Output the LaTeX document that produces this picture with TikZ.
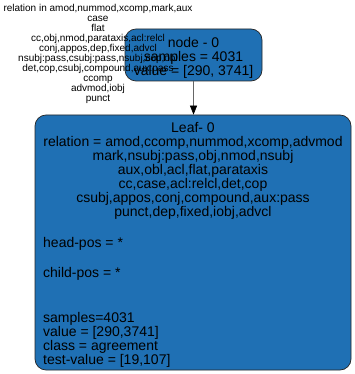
\documentclass[tikz,border=0pt]{standalone}
\usepackage{fontspec}
\setmainfont{Liberation Sans}
\usetikzlibrary{arrows.meta,positioning}
\definecolor{nodeblue}{RGB}{31,112,180}

\begin{document}
\begin{tikzpicture}[x=1pt,y=-1pt,
    box/.style={draw=black!85,fill=nodeblue,rounded corners=11pt,line width=0.7pt},
    big/.style={inner sep=0pt,font=\fontsize{14}{14}\selectfont},
    small/.style={inner sep=0pt,font=\fontsize{10}{10}\selectfont}]
    \useasboundingbox (0,0) rectangle (355,374);

    \node[box,minimum width=137pt,minimum height=52pt] (root) at (193.5,55) {};
    \node[big,align=center] (rootlbl) at (193.5,57.5)
        {node - 0\\samples = 4031\\value = [290, 3741]};
    \node[box,minimum width=316pt,minimum height=255pt] (leaf) at (193,242.5) {};

    \draw[black!60,line width=0.7pt,-{Triangle[black,length=9pt,width=7pt]}]
        (root.south) -- (root.south |- leaf.north);

    % leaf text
    \node[big,align=center,anchor=north] (leafrel) at (193,121.8)
        {Leaf- 0\\relation = amod,ccomp,nummod,xcomp,advmod\\mark,nsubj:pass,obj,nmod,nsubj\\
         aux,obl,acl,flat,parataxis\\cc,case,acl:relcl,det,cop\\
         csubj,appos,conj,compound,aux:pass\\punct,dep,fixed,iobj,advcl};
    \node[big,anchor=base west] (headpos) at (43,247) {head-pos = *};
    \node[big,anchor=base west] (childpos) at (43,277) {child-pos = *};
    \node[big,align=left,anchor=north west] (stats) at (43,311.8)
        {samples=4031\\value = [290,3741]\\class = agreement\\test-value = [19,107]};

    % edge label
    \node[small,align=center,anchor=north] (split) at (98,4.3)
        {relation in amod,nummod,xcomp,mark,aux\\case\\flat\\cc,obj,nmod,parataxis,acl:relcl\\
         conj,appos,dep,fixed,advcl\\nsubj:pass,csubj:pass,nsubj,cop,obl\\
         det,cop,csubj,compound,aux:pass\\ccomp\\advmod,iobj\\punct};
\end{tikzpicture}
\end{document}
